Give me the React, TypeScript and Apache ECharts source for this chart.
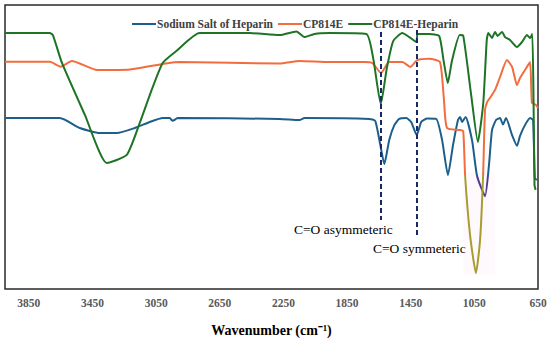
import React, { useEffect, useRef } from "react";
import * as echarts from "echarts";

const tickLabels = [3850, 3450, 3050, 2650, 2250, 1850, 1450, 1050, 650];

const heparinWn = [4000, 3655, 3530, 3404, 3297, 3184, 3090, 3009, 2965, 2946, 2915, 2275, 2149, 2118, 1710, 1673, 1641, 1616, 1585, 1553, 1522, 1478, 1447, 1412, 1384, 1346, 1290, 1253, 1216, 1184, 1153, 1140, 1127, 1105, 1064, 1033, 983, 958, 939, 914, 889, 870, 851, 813, 782, 763, 732, 700, 681, 670, 657];
const heparinT = [60.2, 60.2, 56.7, 54.9, 54.9, 56.7, 58.8, 60.2, 60.2, 59.2, 60.2, 59.9, 59.5, 60.2, 59.9, 59.2, 50.7, 44.0, 52.5, 57.7, 59.9, 60.2, 58.8, 54.2, 58.8, 60.0, 59.9, 52.5, 40.1, 50.7, 59.5, 60.6, 58.8, 60.6, 52.2, 39.8, 32.7, 43.7, 56.0, 59.5, 60.2, 57.9, 60.2, 54.2, 50.4, 53.9, 57.7, 60.2, 59.5, 39.1, 38.4];

const cpWn = [4000, 3718, 3650, 3580, 3420, 3215, 2980, 2900, 2275, 2150, 1961, 1742, 1690, 1637, 1585, 1503, 1453, 1409, 1334, 1266, 1241, 1222, 1140, 1120, 1108, 1077, 1040, 1014, 995, 983, 970, 952, 920, 889, 845, 813, 782, 763, 732, 700, 688, 663, 650];
const cpT = [80.0, 80.0, 78.3, 80.3, 77.1, 77.3, 79.5, 79.9, 79.4, 80.3, 79.9, 79.9, 79.5, 76.1, 79.9, 79.9, 78.2, 80.6, 81.1, 79.9, 66.5, 56.7, 56.0, 55.6, 39.8, 19.0, 5.6, 17.3, 40.1, 63.0, 65.8, 67.3, 70.1, 74.6, 80.6, 78.2, 71.8, 74.3, 77.1, 79.9, 65.5, 64.8, 63.7];

const cpHepWn = [4000, 3718, 3699, 3642, 3498, 3360, 3235, 3153, 3090, 3009, 2921, 2777, 2463, 2275, 2168, 2118, 2055, 1961, 1729, 1686, 1638, 1600, 1560, 1503, 1459, 1415, 1406, 1334, 1271, 1243, 1217, 1191, 1142, 1120, 1070, 1028, 994, 972, 962, 939, 920, 904, 876, 857, 826, 782, 750, 719, 700, 686, 678, 672, 665];
const cpHepT = [90.1, 90.1, 89.4, 79.6, 61.3, 44.4, 47.2, 58.5, 68.3, 79.6, 83.9, 90.1, 90.1, 89.4, 90.7, 88.7, 89.8, 90.1, 89.8, 81.3, 65.1, 77.8, 87.3, 90.1, 88.7, 87.0, 89.8, 89.8, 89.1, 80.3, 72.5, 80.3, 89.4, 89.2, 68.3, 51.8, 65.5, 87.7, 90.1, 88.4, 90.5, 89.1, 90.5, 88.7, 87.7, 85.2, 87.0, 89.4, 88.4, 89.8, 66.5, 36.6, 34.9];

const seriesNames = ["Sodium Salt of Heparin", "CP814E", "CP814E-Heparin"];

const dashedWn = [1637, 1415];
const dashedTop = [90.5, 91.2];
const dashedBottom = [24.3, 19.0];

const BLUE = "#1c5f8b";
const ORANGE = "#f26c3d";
const GREEN = "#1d7424";
const OLIVE = "#a99c2f";
const PURPLE = "#4e3c92";
const SERIF = "Liberation Serif";

const pairs = (xs: number[], ys: number[]) => xs.map((x, i) => [x, ys[i]]);

export default function App() {
  const ref = useRef<HTMLDivElement>(null);
  useEffect(() => {
    if (!ref.current) return;
    const chart = echarts.init(ref.current, undefined, { renderer: "svg" });
    chart.setOption({
      animation: false,
      backgroundColor: "#ffffff",
      grid: {
        left: 5,
        right: 12,
        top: 5,
        bottom: 49,
        outerBoundsMode: "none",
        containLabel: false,
        show: true,
        borderColor: "#2a2a2a",
        borderWidth: 1.5,
      },
      legend: {
        data: seriesNames.map((n, i) => ({ name: n, itemStyle: { color: [BLUE, ORANGE, GREEN][i] } })),
        left: 127,
        top: 13,
        icon: "rect",
        itemWidth: 24,
        itemHeight: 2,
        itemGap: 5,
        textStyle: { fontFamily: SERIF, fontWeight: "bold", fontSize: 11.5, color: "#404040", padding: [0, 0, 0, -4] },
      },
      xAxis: {
        type: "value",
        inverse: true,
        min: 650,
        max: 4000,
        axisLine: { show: false },
        axisTick: { show: false },
        splitLine: { show: false },
        axisLabel: {
          customValues: tickLabels,
          formatter: (v: number) => String(v),
          fontFamily: SERIF,
          fontWeight: "bold",
          fontSize: 11.5,
          color: "#595959",
          margin: 8,
        },
        name: "Wavenumber (cm\u207B\u00B9)",
        nameLocation: "middle",
        nameGap: 34,
        nameTextStyle: { fontFamily: SERIF, fontWeight: "bold", fontSize: 14, color: "#000" },
      },
      yAxis: { type: "value", min: 0, max: 100, show: false },
      visualMap: [
        {
          type: "piecewise",
          show: false,
          seriesIndex: 1,
          dimension: 1,
          pieces: [
            { min: 0, max: 40, color: OLIVE },
            { min: 40, max: 100, color: ORANGE },
          ],
        },
        {
          type: "piecewise",
          show: false,
          seriesIndex: 0,
          dimension: 1,
          pieces: [
            { min: 0, max: 39.95, color: PURPLE },
            { min: 39.95, max: 100, color: BLUE },
          ],
        },
      ],
      series: [
        {
          type: "line",
          symbol: "none",
          smooth: 0.18,
          name: seriesNames[0],
          color: BLUE,
          data: pairs(heparinWn, heparinT),
          lineStyle: { width: 2 },
          z: 2,
        },
        {
          type: "line",
          symbol: "none",
          smooth: 0.18,
          name: seriesNames[1],
          color: ORANGE,
          data: pairs(cpWn, cpT),
          lineStyle: { width: 2 },
          z: 3,
        },
        {
          type: "line",
          symbol: "none",
          smooth: 0.18,
          name: seriesNames[2],
          color: GREEN,
          data: pairs(cpHepWn, cpHepT),
          lineStyle: { width: 2, color: GREEN },
          z: 4,
        },
        {
          type: "line",
          name: "marks",
          symbol: "none",
          data: [],
          z: 5,
          markLine: {
            silent: true,
            symbol: ["none", "none"],
            label: { show: false },
            lineStyle: { color: "#1a2766", type: [5, 3], width: 2 },
            data: dashedWn.map((w, i) => [
              { xAxis: w, yAxis: dashedTop[i] },
              { xAxis: w, yAxis: dashedBottom[i] },
            ]),
          },
          markArea: {
            silent: true,
            itemStyle: { color: "rgba(250,228,247,0.22)" },
            data: [[{ xAxis: 1120, yAxis: 41 }, { xAxis: 920, yAxis: 5 }]],
          },
        },
      ],
      graphic: [
        {
          type: "text",
          x: 294,
          y: 229,
          style: { text: "C=O asymmeteric", fontFamily: SERIF, fontSize: 13.5, fill: "#000", verticalAlign: "middle" },
        },
        {
          type: "text",
          x: 373,
          y: 248,
          style: { text: "C=O symmeteric", fontFamily: SERIF, fontSize: 13.5, fill: "#000", verticalAlign: "middle" },
        },
      ],
    });
    return () => chart.dispose();
  }, []);
  return (
    <div
      ref={ref}
      style={{ position: "absolute", left: 0, top: 0, width: 550, height: 338, background: "#fff" }}
    />
  );
}
